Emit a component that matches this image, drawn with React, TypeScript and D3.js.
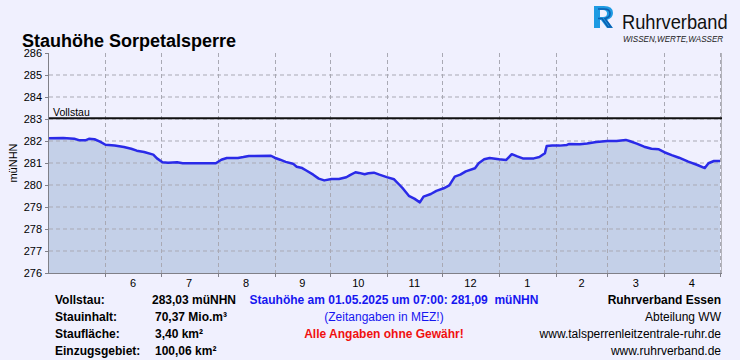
import React from "react";
import * as d3 from "d3";

const levelDates = [
  "2024-05-01","2024-05-09","2024-05-15","2024-05-18","2024-05-21","2024-05-23","2024-05-26","2024-05-29",
  "2024-06-01","2024-06-06","2024-06-11","2024-06-15","2024-06-18","2024-06-22","2024-06-27","2024-06-29",
  "2024-07-02","2024-07-05","2024-07-10","2024-07-13","2024-07-31",
  "2024-08-03","2024-08-06","2024-08-12","2024-08-15","2024-08-18","2024-08-30",
  "2024-09-01","2024-09-04","2024-09-07","2024-09-11","2024-09-13","2024-09-16","2024-09-18","2024-09-22","2024-09-25","2024-09-28",
  "2024-10-02","2024-10-06","2024-10-10","2024-10-12","2024-10-15","2024-10-17","2024-10-20","2024-10-22","2024-10-25","2024-10-28",
  "2024-11-01","2024-11-05","2024-11-08","2024-11-10","2024-11-13","2024-11-16","2024-11-19","2024-11-21","2024-11-25","2024-11-28",
  "2024-12-02","2024-12-05","2024-12-08","2024-12-11","2024-12-14","2024-12-19","2024-12-21","2024-12-24","2024-12-27",
  "2025-01-01","2025-01-05","2025-01-08","2025-01-11","2025-01-14","2025-01-20","2025-01-23","2025-01-26","2025-01-27","2025-01-30",
  "2025-02-03","2025-02-07","2025-02-08","2025-02-14","2025-02-18","2025-02-23",
  "2025-03-01","2025-03-06","2025-03-11","2025-03-13","2025-03-17","2025-03-21","2025-03-25","2025-03-29",
  "2025-04-01","2025-04-05","2025-04-09","2025-04-14","2025-04-19","2025-04-23","2025-04-25","2025-04-28",
  "2025-05-01T07:00"
];
const levelValues = [
  282.12,282.14,282.10,282.03,282.03,282.10,282.08,281.97,
  281.83,281.80,281.73,281.65,281.56,281.50,281.38,281.21,
  281.03,281.01,281.03,280.99,280.99,
  281.15,281.23,281.23,281.27,281.32,281.33,
  281.24,281.15,281.05,280.97,280.83,280.77,280.67,280.47,280.29,280.21,
  280.27,280.27,280.35,280.45,280.58,280.55,280.49,280.53,280.56,280.47,
  280.36,280.26,280.00,279.82,279.51,279.38,279.21,279.47,279.59,279.73,
  279.85,279.98,280.38,280.47,280.62,280.76,280.99,281.17,281.23,
  281.17,281.14,281.40,281.30,281.21,281.21,281.27,281.44,281.77,281.80,
  281.79,281.82,281.86,281.85,281.89,281.95,
  282.00,282.00,282.05,282.00,281.88,281.74,281.65,281.62,
  281.49,281.36,281.24,281.06,280.91,280.77,280.99,281.09,
  281.09
];
const yTicks = [276, 277, 278, 279, 280, 281, 282, 283, 284, 285, 286];
const monthLabels = ["6", "7", "8", "9", "10", "11", "12", "1", "2", "3", "4"];
const vollstau = 283.03;

const infoLabels = ["Vollstau:", "Stauinhalt:", "Staufläche:", "Einzugsgebiet:"];
const infoValues = ["283,03 müNHN", "70,37 Mio.m³", "3,40 km²", "100,06 km²"];
const rightLines = ["Ruhrverband Essen", "Abteilung WW", "www.talsperrenleitzentrale-ruhr.de", "www.ruhrverband.de"];

const FONT = "'Liberation Sans', Arial, Helvetica, sans-serif";

export default function App() {
  const W = 740, H = 360;
  const left = 49, right = 720.5, top = 53, bottom = 273;
  const x = d3.scaleTime()
    .domain([new Date(2024, 4, 1), new Date(2025, 4, 1)])
    .range([48.5, 719.5]);
  const y = d3.scaleLinear().domain([276, 286]).range([bottom, top]);
  const parse = (s: string) => new Date(s.length > 10 ? s : s + "T00:00");
  const data = levelDates.map((d, i) => ({ t: parse(d), v: levelValues[i] }));
  const area = d3.area<{ t: Date; v: number }>().x(d => x(d.t)).y0(bottom).y1(d => y(d.v));
  const line = d3.line<{ t: Date; v: number }>().x(d => x(d.t)).y(d => y(d.v));
  const monthStarts = d3.timeMonth.range(new Date(2024, 5, 1), new Date(2025, 4, 2));
  const monthCenters = monthStarts.slice(0, 11).map((m, i) => {
    const a = x(m), b = x(monthStarts[i + 1]);
    return { label: monthLabels[i], cx: (a + b) / 2 };
  });
  const rowY = [304, 321, 338, 355];
  const gridColor = "#A9A9B4";

  return (
    <svg width={W} height={H} style={{ position: "absolute", left: 0, top: 0 }} fontFamily={FONT}>
      <rect x={0} y={0} width={W} height={H} fill="#F0F0FE" />
      <path d={area(data) || ""} fill="#C4D0E8" />
      {yTicks.filter(t => t > 276 && t < 286).map(t => (
        <line key={"gy" + t} x1={left} x2={right} y1={y(t)} y2={y(t)} stroke={gridColor} strokeDasharray="4,3" strokeWidth={1} />
      ))}
      {monthStarts.map((m, i) => (
        <line key={"gx" + i} x1={Math.round(x(m)) + 0.5} x2={Math.round(x(m)) + 0.5} y1={top} y2={bottom} stroke={gridColor} strokeDasharray="4,3" strokeWidth={1} />
      ))}
      <line x1={721.5} x2={721.5} y1={top} y2={bottom} stroke="#B4B4BC" strokeWidth={1} />
      <path d={line(data) || ""} fill="none" stroke="#2A2AE8" strokeWidth={2.5} strokeLinejoin="round" />
      <line x1={left} x2={722} y1={y(vollstau)} y2={y(vollstau)} stroke="#111" strokeWidth={2} />
      <text x={53} y={116} fontSize={10.5} fill="#000">Vollstau</text>
      <line x1={left - 0.5} x2={left - 0.5} y1={top} y2={bottom} stroke="#808088" strokeWidth={1} />
      <line x1={left - 0.5} x2={722} y1={bottom + 0.5} y2={bottom + 0.5} stroke="#808088" strokeWidth={1} />
      {yTicks.map(t => (
        <g key={"yt" + t}>
          <line x1={45} x2={left} y1={Math.round(y(t)) + 0.5} y2={Math.round(y(t)) + 0.5} stroke="#808088" />
          <text x={42} y={y(t) + 4} fontSize={11} textAnchor="end" fill="#000">{t}</text>
        </g>
      ))}
      {monthStarts.map((m, i) => (
        <line key={"xt" + i} x1={Math.round(x(m)) + 0.5} x2={Math.round(x(m)) + 0.5} y1={bottom} y2={bottom + 4} stroke="#808088" />
      ))}
      {monthCenters.map(m => (
        <text key={"ml" + m.label} x={m.cx} y={287} fontSize={11} textAnchor="middle" fill="#000">{m.label}</text>
      ))}
      <text transform={`translate(17,${(top + bottom) / 2}) rotate(-90)`} fontSize={11} textAnchor="middle" fill="#000">müNHN</text>
      <text x={22} y={47} fontSize={18} fontWeight="bold" fill="#000">Stauhöhe Sorpetalsperre</text>
      <g>
        <path d="M594,6 L604,6 Q613,6 613,13 Q613,18 607,20 L613,28 L607,28 L601,20 L600,20 L600,28 L594,28 Z M600,10 L600,17 L603,17 Q607,17 607,13.5 Q607,10 603,10 Z" fill="#1E9BE3" fillRule="evenodd" />
        <path d="M598,9 L604,9 Q610,9 610,13.5 Q610,17.5 605,18.5 L611,27 L608,27 L602,18.5 L598,18.5" fill="none" stroke="#0D5FB0" strokeWidth={1.6} />
        <text transform="translate(622,29) scale(0.87,1)" fontSize={21} fill="#111">Ruhrverband</text>
        <text transform="translate(623,42) scale(0.95,1)" fontSize={8.5} fontStyle="italic" fill="#222">WISSEN,WERTE,WASSER</text>
      </g>
      {infoLabels.map((l, i) => (
        <text key={"il" + i} x={55} y={rowY[i]} fontSize={12} fontWeight="bold" fill="#000">{l}</text>
      ))}
      {infoValues.map((v, i) => (
        <text key={"iv" + i} x={i === 0 ? 152 : 155} y={rowY[i]} fontSize={12} fontWeight="bold" fill="#000">{v}</text>
      ))}
      <text x={394} y={rowY[0]} fontSize={12} fontWeight="bold" fill="#1616F0" textAnchor="middle" style={{ whiteSpace: "pre" }}>{"Stauhöhe am 01.05.2025 um 07:00: 281,09  müNHN"}</text>
      <text x={384} y={rowY[1]} fontSize={12} fill="#1616F0" textAnchor="middle">(Zeitangaben in MEZ!)</text>
      <text x={384} y={rowY[2]} fontSize={12} fontWeight="bold" fill="#F01010" textAnchor="middle">Alle Angaben ohne Gewähr!</text>
      {rightLines.map((l, i) => (
        <text key={"rl" + i} x={721} y={rowY[i]} fontSize={12} fontWeight={i === 0 ? "bold" : "normal"} fill="#000" textAnchor="end">{l}</text>
      ))}
    </svg>
  );
}
